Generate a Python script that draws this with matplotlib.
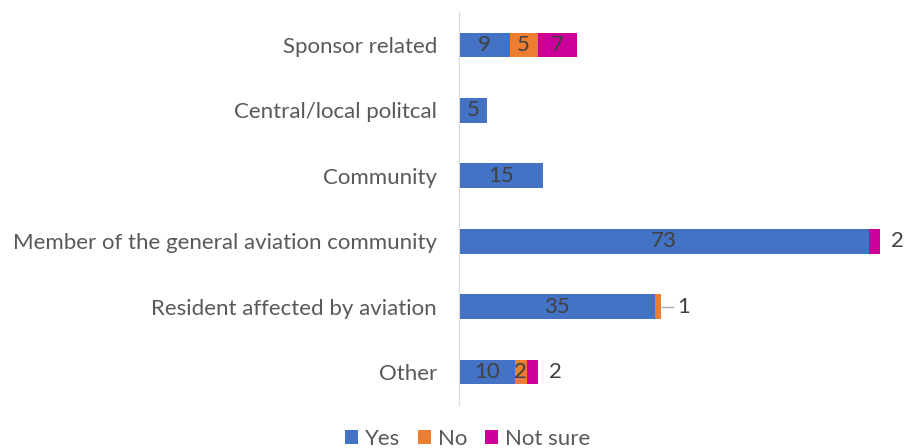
import matplotlib.pyplot as plt
import numpy as np

plt.rcParams['font.family'] = ['Lato', 'DejaVu Sans']

categories = ['Sponsor related', 'Central/local politcal', 'Community',
              'Member of the general aviation community',
              'Resident affected by aviation', 'Other']
yes = [9, 5, 15, 73, 35, 10]
no = [5, 0, 0, 0, 1, 2]
not_sure = [7, 0, 0, 2, 0, 2]

series = [('Yes', yes, '#4472C4'), ('No', no, '#ED7D31'), ('Not sure', not_sure, '#CC0099')]

fig = plt.figure(figsize=(9.13, 4.48), dpi=100)
ax = fig.add_axes([0.503, 0.0967, 0.479, 0.8758])

y = np.arange(len(categories))
left = np.zeros(len(categories))
for name, vals, color in series:
    vals = np.array(vals, dtype=float)
    ax.barh(y, vals, left=left, height=0.38, color=color, label=name)
    left += vals

# value labels: small trailing segments go outside the bar
for i in range(len(categories)):
    row = [yes[i], no[i], not_sure[i]]
    last = max(k for k, v in enumerate(row) if v > 0)
    start = 0
    for k, v in enumerate(row):
        if v == 0:
            continue
        if k == last and v <= 2 and k > 0:
            end = start + v
            if v == 1:
                ax.plot([end + 0.1, end + 2.1], [y[i], y[i]], color='#A6A6A6', lw=1)
                ax.text(end + 2.9, y[i], str(v), va='center', ha='left',
                        fontsize=16, color='#404040')
            else:
                ax.text(end + 2.0, y[i], str(v), va='center', ha='left',
                        fontsize=16, color='#404040')
        else:
            ax.text(start + v / 2, y[i], str(v), va='center', ha='center',
                    fontsize=16, color='#404040')
        start += v

ax.set_xlim(0, 78)
ax.set_ylim(len(categories) - 0.5, -0.5)
ax.set_yticks(y)
ax.set_yticklabels(categories, fontsize=16, color='#595959')
ax.tick_params(axis='y', length=0, pad=16)
ax.set_xticks([])
for s in ['top', 'right', 'bottom']:
    ax.spines[s].set_visible(False)
ax.spines['left'].set_color('#D9D9D9')

fig.legend(loc='center', bbox_to_anchor=(0.512, 0.02), ncol=3, frameon=False,
           fontsize=16, handlelength=0.6, handleheight=0.6, handletextpad=0.3,
           columnspacing=0.8, labelcolor='#595959')

fig.savefig('out.png', dpi=100)
